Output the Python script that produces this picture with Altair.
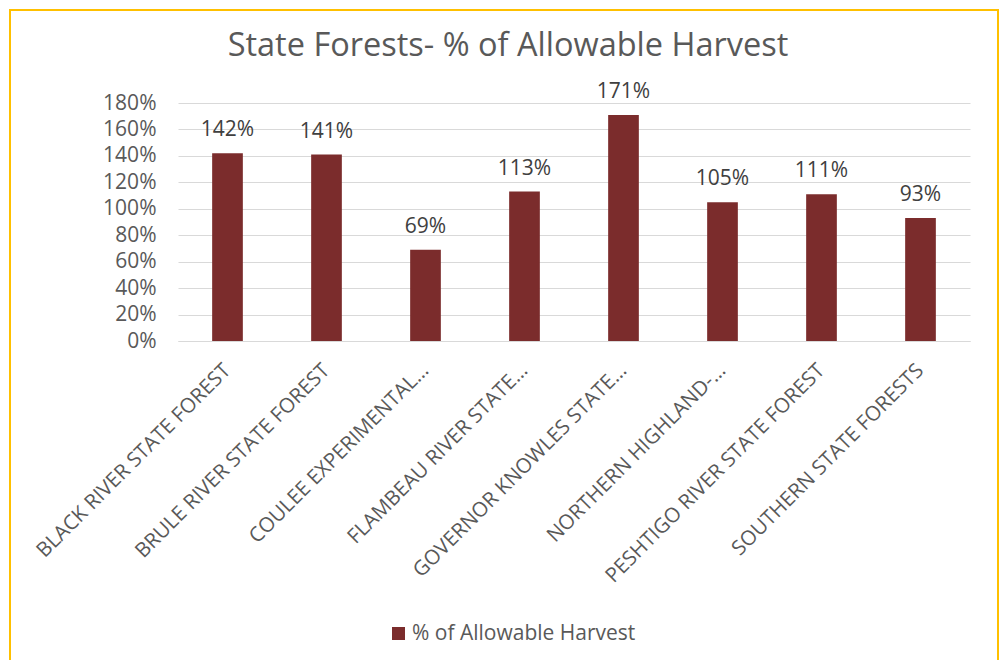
import altair as alt
import pandas as pd

categories = [
    "BLACK RIVER STATE FOREST",
    "BRULE RIVER STATE FOREST",
    "COULEE EXPERIMENTAL…",
    "FLAMBEAU RIVER STATE…",
    "GOVERNOR KNOWLES STATE…",
    "NORTHERN HIGHLAND-…",
    "PESHTIGO RIVER STATE FOREST",
    "SOUTHERN STATE FORESTS",
]
values = [1.42, 1.41, 0.69, 1.13, 1.71, 1.05, 1.11, 0.93]
series_name = "% of Allowable Harvest"
title_text = "State Forests- % of Allowable Harvest"
y_ticks = [0, 0.2, 0.4, 0.6, 0.8, 1.0, 1.2, 1.4, 1.6, 1.8]

df = pd.DataFrame({"forest": categories, "value": values, "series": [series_name] * len(values)})

FONT = "Open Sans"
GREY = "#595959"
BAR = "#7B2C2C"

x_enc = alt.X(
    "forest:N",
    sort=categories,
    scale=alt.Scale(paddingInner=0.69, paddingOuter=0.345),
    axis=alt.Axis(
        title=None,
        labelAngle=-45,
        labelAlign="right",
        labelBaseline="middle",
        labelPadding=26,
        labelFontSize=20.5,
        labelColor=GREY,
        labelFont=FONT,
        labelLimit=400,
        labelOverlap=False,
        ticks=False,
        domainColor="#D9D9D9",
        domainWidth=1,
    ),
)
y_enc = alt.Y(
    "value:Q",
    scale=alt.Scale(domain=[0, 1.8], nice=False),
    axis=alt.Axis(
        title=None,
        format=".0%",
        values=y_ticks,
        labelFontSize=21,
        labelColor=GREY,
        labelFont=FONT,
        labelPadding=22,
        labelOverlap=False,
        ticks=False,
        domain=False,
        gridColor="#D9D9D9",
        gridWidth=1,
    ),
)

base = alt.Chart(df).encode(x=x_enc, y=y_enc)

bars = base.mark_bar(color=BAR).encode(
    color=alt.Color(
        "series:N",
        scale=alt.Scale(range=[BAR]),
        legend=alt.Legend(
            title=None,
            orient="none",
            legendX=210,
            legendY=520,
            symbolType="square",
            symbolSize=169,
            symbolStrokeWidth=0,
            labelFontSize=21,
            labelColor=GREY,
            labelFont=FONT,
            labelLimit=400,
            padding=0,
            labelOffset=3,
        ),
    ),
)

labels = base.mark_text(
    baseline="alphabetic", dy=-17, fontSize=21, color="#404040", font=FONT
).encode(
    text=alt.Text("value:Q", format=".0%"),
)

border = alt.Chart(alt.Data(values=[{"a": 1}])).mark_rect(
    fill="transparent", stroke="#FFC000", strokeWidth=2
).encode(
    x=alt.value(-168), x2=alt.value(820), y=alt.value(-93), y2=alt.value(700)
)

title = alt.Chart(alt.Data(values=[{"t": title_text}])).mark_text(
    fontSize=32.5, font=FONT, color=GREY, align="center", baseline="alphabetic"
).encode(
    x=alt.value(330), y=alt.value(-47), text="t:N"
)

chart = alt.layer(border, title, bars, labels).properties(
    width=792,
    height=238,
    padding={"left": 170, "top": 95, "right": 30, "bottom": 319},
    autosize=alt.AutoSizeParams(type="none"),
    background="white",
).configure_view(stroke=None)

chart.save("out.html", embed_options={"renderer": "svg", "actions": False})
